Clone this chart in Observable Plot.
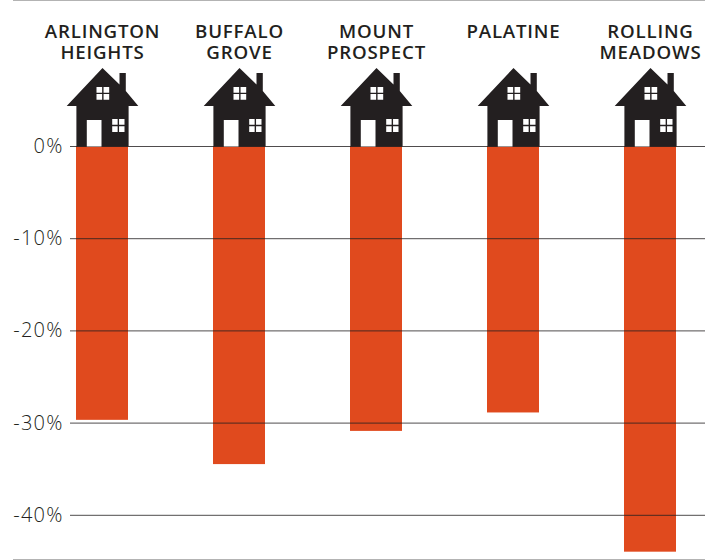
<!DOCTYPE html>
<html>
<head>
<meta charset="utf-8">
<script src="https://cdn.jsdelivr.net/npm/d3@7"></script>
<script src="https://cdn.jsdelivr.net/npm/@observablehq/plot@0.6"></script>
<style>
  html, body { margin: 0; padding: 0; background: #fff; }
  #chart { position: relative; width: 715px; height: 560px; overflow: hidden; }
  #chart svg { position: absolute; left: 0; top: 0; }
  #chart svg .suburb-label text { letter-spacing: 0.8px; }
  #chart svg .tick-label text { letter-spacing: 1.2px; }
  .edge { position: absolute; left: 13px; width: 692px; height: 1px; background: #b3b3b3; }
</style>
</head>
<body>
<div id="chart">
  <div class="edge" style="top:0"></div>
  <div class="edge" style="top:559px"></div>
</div>
<script>
const suburbs = ["ARLINGTON\nHEIGHTS", "BUFFALO\nGROVE", "MOUNT\nPROSPECT", "PALATINE", "ROLLING\nMEADOWS"];
const changes = [-29.7, -34.5, -30.9, -28.9, -44.0];
const ticks = [0, -10, -20, -30, -40];

const rows = suburbs.map((name, i) => ({name, change: changes[i]}));

// House glyphs, anchored at the middle of the bottom of the house
const polygon = (ctx, pts) => {
  ctx.moveTo(pts[0][0], pts[0][1]);
  pts.slice(1).forEach(p => ctx.lineTo(p[0], p[1]));
  ctx.closePath();
};
const rect = (ctx, x0, y0, x1, y1) => polygon(ctx, [[x0, y0], [x1, y0], [x1, y1], [x0, y1]]);
const pane = (ctx, x0, y0, x1, y1) => {
  const mx = (x0 + x1) / 2, my = (y0 + y1) / 2, g = 0.7;
  rect(ctx, x0, y0, mx - g, my - g);
  rect(ctx, mx + g, y0, x1, my - g);
  rect(ctx, x0, my + g, mx - g, y1);
  rect(ctx, mx + g, my + g, x1, y1);
};
const houseShape = {
  draw(ctx) {
    polygon(ctx, [[0, -78.5], [17, -62], [17, -73.5], [23.3, -73.5], [23.3, -55.5], [35.8, -40.5],
      [26.1, -40.5], [26.1, 0], [-26.1, 0], [-26.1, -40.5], [-35.8, -40.5]]);
  }
};
const houseOpenings = {
  draw(ctx) {
    rect(ctx, -15.7, -26.5, -1, 0);
    pane(ctx, -6, -59.5, 6.7, -46.8);
    pane(ctx, 9.7, -27.5, 22, -14.5);
  }
};

const plot = Plot.plot({
  width: 715,
  height: 560,
  marginLeft: 70,
  marginRight: 10,
  marginTop: 146,
  marginBottom: 45,
  style: {background: "transparent", overflow: "visible"},
  x: {type: "band", domain: suburbs, range: [69, 683], paddingInner: 0.618, paddingOuter: 0.042, axis: null},
  y: {domain: [0, -40], range: [146, 514.8], axis: null},
  marks: [
    Plot.barY(rows, {x: "name", y1: 0, y2: "change", fill: "#e04a1e"}),
    Plot.ruleY(ticks, {stroke: "#231f20", strokeOpacity: 0.8, strokeWidth: 1}),
    Plot.axisY(ticks, {
      anchor: "left",
      tickSize: 0,
      tickPadding: 7,
      tickFormat: d => d + "%",
      label: null,
      fontFamily: "Open Sans",
      fontWeight: 300,
      fontSize: 20,
      fill: "#231f20",
      className: "tick-label"
    }),
    Plot.dot(rows, {x: "name", y: () => 0, symbol: houseShape, fill: "#231f20", stroke: "none", r: 1}),
    Plot.dot(rows, {x: "name", y: () => 0, symbol: houseOpenings, fill: "#ffffff", stroke: "none", r: 1}),
    Plot.text(rows, {
      x: "name",
      y: () => 0,
      text: "name",
      dy: -123,
      lineAnchor: "top",
      lineHeight: 1.1,
      fontFamily: "Open Sans",
      fontWeight: 600,
      fontSize: 18.7,
      fill: "#231f20",
      className: "suburb-label"
    })
  ]
});
document.getElementById("chart").appendChild(plot);
// Put the class names on the mark groups the style sheet targets
d3.select(plot).selectAll('g[aria-label="text"]').classed("suburb-label", true);
d3.select(plot).selectAll('g[aria-label="y-axis tick label"]').classed("tick-label", true);
</script>
</body>
</html>
